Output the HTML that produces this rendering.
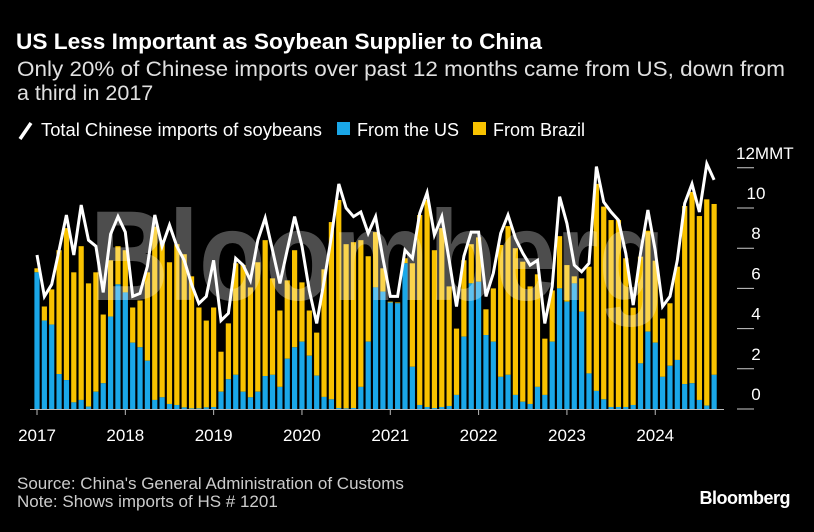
<!DOCTYPE html>
<html><head><meta charset="utf-8">
<style>
body{margin:0;background:#000;width:814px;height:527px;overflow:hidden;font-family:"Liberation Sans",sans-serif;color:#fff}
</style></head>
<body>
<svg id="chart" width="814" height="527" viewBox="0 0 814 527" xmlns="http://www.w3.org/2000/svg" font-family="Liberation Sans, sans-serif">
<rect width="814" height="527" fill="#000"/>
<text x="16" y="49" fill="#fff" font-size="22.5" font-weight="bold" textLength="526" lengthAdjust="spacingAndGlyphs">US Less Important as Soybean Supplier to China</text>
<text x="17" y="76" fill="#e0e0e0" font-size="21.5" textLength="768" lengthAdjust="spacingAndGlyphs">Only 20% of Chinese imports over past 12 months came from US, down from</text>
<text x="17" y="100" fill="#e0e0e0" font-size="21.5">a third in 2017</text>
<g>
<line x1="20" y1="139" x2="31" y2="123" stroke="#fff" stroke-width="3.5"/>
<text x="41" y="136" fill="#fff" font-size="18" textLength="281" lengthAdjust="spacingAndGlyphs">Total Chinese imports of soybeans</text>
<rect x="337" y="122" width="13" height="13" fill="#1aa7e8"/>
<text x="357" y="136" fill="#fff" font-size="18">From the US</text>
<rect x="473" y="122" width="13" height="13" fill="#f8c200"/>
<text x="493" y="136" fill="#fff" font-size="18">From Brazil</text>
</g>
<g id="plot"></g>
<text x="90" y="300" fill="#fff" fill-opacity="0.3" font-size="128" font-weight="bold" textLength="575" lengthAdjust="spacingAndGlyphs">Bloomberg</text>
<g id="lineg"></g>
<g id="axes"></g>
<text x="17" y="489" fill="#ccc" font-size="17">Source: China's General Administration of Customs</text>
<text x="17" y="507" fill="#ccc" font-size="17">Note: Shows imports of HS # 1201</text>
<text x="790" y="504" fill="#fff" font-size="18" font-weight="bold" text-anchor="end" letter-spacing="-0.5">Bloomberg</text>
</svg>
<script>
const usValues=[6.8,4.4,4.2,1.74,1.44,0.33,0.45,0.12,0.86,1.28,4.6,6.2,
5.8,3.3,3.07,2.4,0.45,0.58,0.25,0.2,0.08,0.03,0.03,0.08,
0.1,0.86,1.48,1.7,0.86,0.58,0.86,1.64,1.7,1.1,2.5,3.07,
3.35,2.65,1.66,0.6,0.48,0.05,0.03,0.05,1.1,3.35,6.05,5.84,
5.3,5.26,7.25,2.1,0.2,0.1,0.05,0.1,0.15,0.7,3.6,6.25,
6.33,3.68,3.35,1.6,1.7,0.7,0.36,0.25,1.1,0.7,3.35,6.0,
5.34,6.25,4.84,1.77,0.9,0.48,0.1,0.1,0.1,0.2,2.27,3.85,
3.3,1.6,2.15,2.44,1.24,1.28,0.45,0.17,1.7];
const barTotals=[7.0,5.1,5.95,7.9,9.0,6.8,8.1,6.25,6.8,4.7,7.4,8.1,
7.9,5.05,5.4,6.8,9.07,8.4,7.3,8.2,7.7,6.6,5.05,4.4,
5.05,2.85,4.26,7.25,7.16,6.05,7.3,8.4,6.5,4.9,6.4,7.9,
6.3,4.9,3.8,6.95,9.3,10.4,8.2,8.3,8.4,7.6,8.8,7.0,
5.34,5.3,7.5,7.25,9.65,10.4,7.9,9.0,6.1,4.0,7.4,8.2,
8.54,4.96,6.0,8.16,9.1,8.0,7.33,6.1,6.7,3.5,5.9,8.6,
7.16,6.6,6.5,7.08,11.2,10.07,9.4,9.4,7.5,5.04,7.58,8.87,
7.38,4.5,5.26,7.08,10.1,10.8,9.6,10.43,10.2];
const totalImports=[7.66,5.6,6.2,7.9,9.65,7.66,10.15,8.4,8.1,5.8,8.7,9.57,
8.8,5.6,5.75,7.1,9.65,8.1,9.15,8.1,7.4,6.2,5.25,5.6,
7.4,4.4,4.76,7.5,7.16,6.4,8.4,9.5,7.9,6.25,7.9,9.57,
8.1,5.9,4.26,6.33,8.57,11.2,10.0,9.57,9.8,8.74,9.57,7.5,
5.6,5.6,7.9,7.5,9.73,10.76,8.66,9.57,7.4,5.1,7.6,8.8,
8.8,5.6,6.75,8.74,9.65,8.5,7.75,7.16,7.4,4.26,6.1,10.56,
9.24,7.16,6.83,7.25,12.06,10.3,9.8,9.4,7.74,5.17,7.74,9.9,
7.9,5.1,5.6,7.4,10.23,11.2,9.8,12.2,11.4];
const yTicks=[0,2,4,6,8,10,12];
const yearLabels=["2017","2018","2019","2020","2021","2022","2023","2024"];

const NS="http://www.w3.org/2000/svg";
const x0=37, step=7.36, y0=409, pxPerUnit=20.1;
function xScale(i){return x0+i*step;}
function yScale(v){return y0-v*pxPerUnit;}
function mk(tag,attrs,parent){const e=document.createElementNS(NS,tag);for(const k in attrs)e.setAttribute(k,attrs[k]);parent.appendChild(e);return e;}
const plot=document.getElementById('plot');
const bw=5.2;
for(let i=0;i<barTotals.length;i++){
  const cx=xScale(i);
  const br=mk('rect',{x:cx-bw/2,y:yScale(barTotals[i]),width:bw,height:Math.max(0,yScale(usValues[i])-yScale(barTotals[i])),fill:'#f8c200'},plot);
  
  
  const us=mk('rect',{x:cx-bw/2,y:yScale(usValues[i]),width:bw,height:y0-yScale(usValues[i]),fill:'#1aa7e8'},plot);
  
  
}
const lineg=document.getElementById('lineg');
const pts=totalImports.map((v,i)=>xScale(i).toFixed(1)+','+yScale(v).toFixed(1)).join(' ');
const pl=mk('polyline',{points:pts,fill:'none',stroke:'#fff','stroke-width':3,'stroke-linejoin':'miter'},lineg);


const axes=document.getElementById('axes');
const base=mk('line',{x1:30,y1:y0+0.5,x2:724,y2:y0+0.5,stroke:'#bbb','stroke-width':1},axes);


yearLabels.forEach((lab,k)=>{
  const x=xScale(k*12);
  const t=mk('line',{x1:x,y1:y0,x2:x,y2:y0+6,stroke:'#bbb','stroke-width':1},axes);
  
  
  const tx=mk('text',{x:x,y:441,fill:'#fff','font-size':17,'text-anchor':'middle'},axes);
  tx.textContent=lab;
  
  
});
yTicks.forEach(v=>{
  const y=yScale(v);
  const d=mk('line',{x1:737,y1:y,x2:754,y2:y,stroke:'#ccc','stroke-width':1},axes);
  
  
  const isTop=v===yTicks[yTicks.length-1];
  const tx=mk('text',{x:isTop?736:756,y:y-9,fill:'#fff','font-size':17,'text-anchor':isTop?'start':'middle'},axes);
  tx.textContent=isTop?v+'MMT':String(v);
  
  
});
</script>
</body></html>
